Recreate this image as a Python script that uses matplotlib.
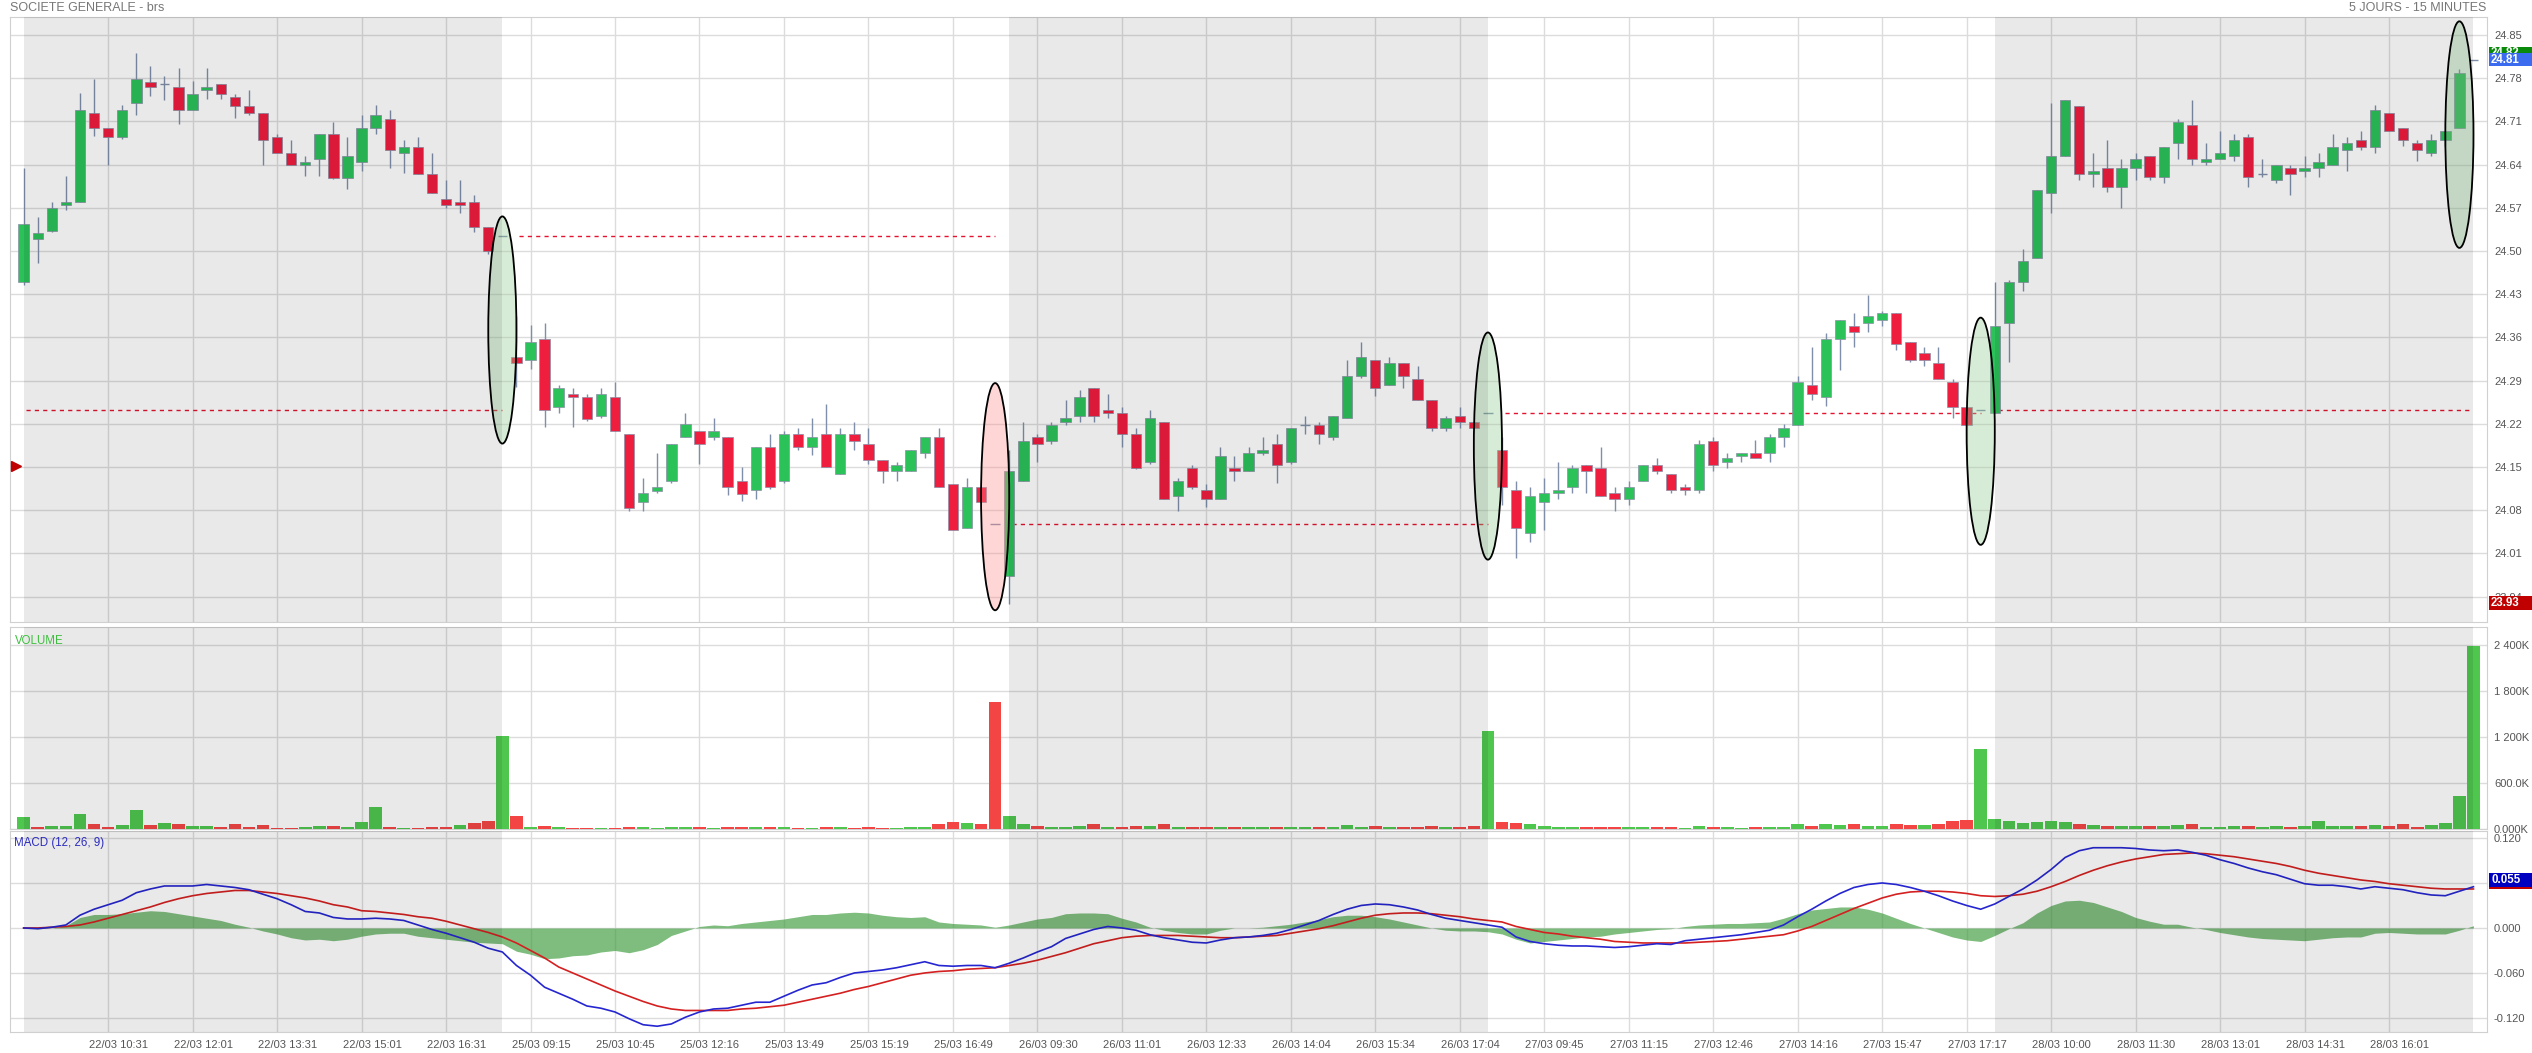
import matplotlib
matplotlib.use("Agg")
import matplotlib.pyplot as plt
from matplotlib.patches import Ellipse, Rectangle
from matplotlib.transforms import ScaledTranslation, blended_transform_factory

plt.rcParams['font.family'] = ['Liberation Sans', 'DejaVu Sans']

# 15-minute bars over five sessions; bar 34, 69, 104, 139 and 174 are the closing auctions
opens = [24.450, 24.519, 24.533, 24.574, 24.579, 24.724, 24.700, 24.685, 24.739, 24.774,
         24.770, 24.765, 24.729, 24.760, 24.770, 24.750, 24.735, 24.724, 24.685, 24.659,
         24.639, 24.649, 24.690, 24.619, 24.644, 24.700, 24.714, 24.659, 24.669, 24.625,
         24.584, 24.579, 24.579, 24.539, 24.524,
         24.328, 24.324, 24.358, 24.248, 24.268, 24.264, 24.233, 24.264, 24.204, 24.093,
         24.112, 24.127, 24.199, 24.209, 24.199, 24.199, 24.127, 24.113, 24.183, 24.127,
         24.204, 24.183, 24.204, 24.139, 24.204, 24.187, 24.162, 24.144, 24.144, 24.173,
         24.199, 24.122, 24.052, 24.117, 24.058,
         23.973, 24.127, 24.199, 24.193, 24.223, 24.233, 24.278, 24.243, 24.238, 24.204,
         24.158, 24.223, 24.103, 24.149, 24.113, 24.098, 24.149, 24.144, 24.173, 24.187,
         24.158, 24.218, 24.218, 24.199, 24.229, 24.298, 24.324, 24.283, 24.319, 24.293,
         24.259, 24.214, 24.233, 24.223, 24.237,
         24.178, 24.113, 24.043, 24.093, 24.108, 24.117, 24.153, 24.149, 24.108, 24.098,
         24.127, 24.153, 24.139, 24.117, 24.113, 24.193, 24.158, 24.168, 24.173, 24.173,
         24.199, 24.218, 24.283, 24.264, 24.358, 24.379, 24.384, 24.389, 24.399, 24.353,
         24.334, 24.319, 24.288, 24.248, 24.243,
         24.238, 24.384, 24.450, 24.488, 24.594, 24.654, 24.735, 24.625, 24.634, 24.604,
         24.634, 24.654, 24.620, 24.675, 24.704, 24.644, 24.649, 24.654, 24.685, 24.625,
         24.615, 24.634, 24.630, 24.634, 24.639, 24.664, 24.680, 24.669, 24.724, 24.700,
         24.675, 24.659, 24.680, 24.700, 24.810]
highs = [24.635, 24.555, 24.579, 24.621, 24.756, 24.779, 24.700, 24.736, 24.820, 24.800,
         24.784, 24.796, 24.775, 24.796, 24.770, 24.755, 24.760, 24.724, 24.690, 24.680,
         24.654, 24.690, 24.709, 24.685, 24.720, 24.736, 24.729, 24.680, 24.685, 24.659,
         24.615, 24.615, 24.590, 24.539, 24.524,
         24.394, 24.380, 24.384, 24.283, 24.278, 24.268, 24.278, 24.287, 24.204, 24.133,
         24.173, 24.188, 24.238, 24.209, 24.229, 24.199, 24.150, 24.183, 24.204, 24.209,
         24.214, 24.229, 24.252, 24.214, 24.223, 24.214, 24.162, 24.158, 24.178, 24.199,
         24.214, 24.122, 24.133, 24.117, 24.058,
         24.178, 24.223, 24.204, 24.223, 24.259, 24.274, 24.278, 24.268, 24.248, 24.214,
         24.243, 24.223, 24.132, 24.153, 24.122, 24.183, 24.168, 24.183, 24.199, 24.204,
         24.214, 24.233, 24.223, 24.233, 24.324, 24.353, 24.324, 24.328, 24.319, 24.313,
         24.259, 24.233, 24.248, 24.223, 24.237,
         24.199, 24.127, 24.117, 24.133, 24.158, 24.153, 24.153, 24.183, 24.117, 24.127,
         24.153, 24.164, 24.139, 24.122, 24.194, 24.199, 24.173, 24.173, 24.194, 24.204,
         24.219, 24.298, 24.344, 24.367, 24.389, 24.399, 24.428, 24.403, 24.399, 24.353,
         24.344, 24.344, 24.293, 24.248, 24.243,
         24.450, 24.453, 24.504, 24.599, 24.740, 24.745, 24.735, 24.659, 24.680, 24.649,
         24.659, 24.654, 24.669, 24.714, 24.745, 24.675, 24.694, 24.689, 24.689, 24.649,
         24.639, 24.639, 24.654, 24.659, 24.690, 24.685, 24.694, 24.736, 24.724, 24.700,
         24.680, 24.689, 24.694, 24.795, 24.810]
lows = [24.445, 24.480, 24.530, 24.567, 24.579, 24.686, 24.640, 24.682, 24.720, 24.751,
        24.745, 24.705, 24.729, 24.746, 24.746, 24.715, 24.721, 24.640, 24.659, 24.639,
        24.621, 24.621, 24.616, 24.600, 24.630, 24.690, 24.635, 24.626, 24.625, 24.594,
        24.570, 24.561, 24.530, 24.495, 24.524,
        24.280, 24.309, 24.215, 24.238, 24.215, 24.225, 24.230, 24.209, 24.079, 24.079,
        24.108, 24.124, 24.199, 24.155, 24.194, 24.104, 24.095, 24.099, 24.114, 24.124,
        24.178, 24.169, 24.150, 24.139, 24.178, 24.155, 24.124, 24.128, 24.144, 24.164,
        24.117, 24.048, 24.052, 24.093, 24.058,
        23.928, 24.127, 24.158, 24.188, 24.218, 24.223, 24.223, 24.229, 24.183, 24.147,
        24.155, 24.098, 24.079, 24.114, 24.085, 24.098, 24.128, 24.144, 24.169, 24.124,
        24.155, 24.204, 24.188, 24.194, 24.229, 24.294, 24.265, 24.283, 24.278, 24.259,
        24.209, 24.209, 24.214, 24.214, 24.237,
        24.088, 24.003, 24.029, 24.048, 24.099, 24.108, 24.108, 24.103, 24.079, 24.089,
        24.127, 24.139, 24.108, 24.104, 24.108, 24.144, 24.149, 24.158, 24.164, 24.158,
        24.183, 24.218, 24.259, 24.249, 24.308, 24.345, 24.369, 24.379, 24.340, 24.320,
        24.313, 24.293, 24.229, 24.218, 24.243,
        24.238, 24.320, 24.435, 24.488, 24.561, 24.654, 24.615, 24.604, 24.595, 24.570,
        24.615, 24.615, 24.610, 24.649, 24.640, 24.640, 24.649, 24.646, 24.604, 24.620,
        24.610, 24.590, 24.620, 24.620, 24.639, 24.630, 24.664, 24.659, 24.694, 24.670,
        24.646, 24.654, 24.670, 24.700, 24.810]
closes = [24.543, 24.529, 24.569, 24.579, 24.729, 24.700, 24.685, 24.729, 24.779, 24.765,
          24.770, 24.729, 24.755, 24.765, 24.755, 24.735, 24.724, 24.680, 24.659, 24.639,
          24.644, 24.690, 24.619, 24.654, 24.700, 24.720, 24.664, 24.669, 24.625, 24.594,
          24.574, 24.574, 24.539, 24.500, 24.524,
          24.319, 24.353, 24.243, 24.278, 24.264, 24.228, 24.268, 24.209, 24.084, 24.108,
          24.117, 24.188, 24.219, 24.187, 24.209, 24.117, 24.107, 24.183, 24.117, 24.204,
          24.183, 24.199, 24.150, 24.204, 24.193, 24.162, 24.144, 24.153, 24.178, 24.199,
          24.117, 24.048, 24.117, 24.093, 24.058,
          24.144, 24.193, 24.187, 24.218, 24.229, 24.264, 24.233, 24.238, 24.204, 24.149,
          24.229, 24.098, 24.127, 24.117, 24.098, 24.168, 24.144, 24.173, 24.178, 24.153,
          24.214, 24.218, 24.204, 24.233, 24.298, 24.328, 24.278, 24.319, 24.298, 24.259,
          24.214, 24.229, 24.223, 24.214, 24.237,
          24.117, 24.052, 24.103, 24.108, 24.113, 24.149, 24.144, 24.103, 24.098, 24.117,
          24.153, 24.144, 24.113, 24.113, 24.187, 24.153, 24.164, 24.173, 24.164, 24.199,
          24.214, 24.288, 24.268, 24.358, 24.389, 24.368, 24.394, 24.399, 24.349, 24.324,
          24.324, 24.293, 24.248, 24.218, 24.243,
          24.379, 24.450, 24.484, 24.599, 24.654, 24.745, 24.625, 24.630, 24.604, 24.634,
          24.649, 24.620, 24.669, 24.709, 24.649, 24.649, 24.659, 24.680, 24.620, 24.625,
          24.639, 24.625, 24.634, 24.644, 24.669, 24.675, 24.669, 24.729, 24.694, 24.680,
          24.664, 24.680, 24.694, 24.789, 24.810]

# volume in thousands of shares
volumes_k = [162, 22, 39, 35, 193, 61, 26, 53, 254, 48, 74, 61, 39, 39, 26, 70, 31, 48, 18, 18,
             22, 44, 39, 26, 88, 293, 26, 9, 18, 26, 26, 57, 74, 101, 1218,
             171, 31, 39, 22, 9, 9, 18, 9, 30, 20, 15, 20, 25, 20, 15, 25, 20, 25, 20, 25,
             15, 15, 20, 25, 15, 20, 15, 15, 20, 20, 60, 90, 80, 60, 1660,
             170, 60, 40, 30, 25, 45, 60, 30, 30, 40, 40, 60, 30, 25, 30, 30, 20, 25, 20, 20,
             25, 20, 20, 25, 50, 30, 40, 25, 30, 30, 40, 25, 30, 40, 1280,
             90, 80, 60, 40, 30, 30, 30, 25, 25, 25, 30, 20, 20, 15, 40, 30, 20, 15, 20, 25,
             30, 60, 40, 70, 50, 60, 40, 40, 60, 50, 50, 70, 100, 120, 1050,
             130, 110, 80, 90, 100, 90, 70, 50, 40, 40, 40, 35, 40, 50, 60, 30, 30, 40, 40, 25,
             40, 30, 39, 100, 39, 43, 39, 52, 39, 70, 26, 52, 83, 437, 2390]

macd_line = [0.000, -0.001, 0.001, 0.004, 0.017, 0.025, 0.031, 0.037, 0.047, 0.052,
             0.056, 0.056, 0.056, 0.058, 0.056, 0.054, 0.051, 0.045, 0.039, 0.031,
             0.022, 0.020, 0.014, 0.012, 0.012, 0.013, 0.012, 0.010, 0.004, -0.002,
             -0.007, -0.013, -0.019, -0.027, -0.032, -0.050, -0.063, -0.079, -0.087, -0.095,
             -0.104, -0.107, -0.112, -0.121, -0.129, -0.131, -0.128, -0.119, -0.112, -0.108,
             -0.107, -0.103, -0.099, -0.099, -0.091, -0.083, -0.076, -0.073, -0.066, -0.060,
             -0.058, -0.056, -0.053, -0.049, -0.045, -0.050, -0.051, -0.050, -0.050, -0.053,
             -0.047, -0.040, -0.032, -0.025, -0.014, -0.008, -0.002, 0.002, 0.000, -0.003,
             -0.009, -0.013, -0.016, -0.019, -0.020, -0.016, -0.013, -0.012, -0.010, -0.007,
             -0.002, 0.004, 0.010, 0.018, 0.025, 0.030, 0.032, 0.031, 0.028, 0.024,
             0.018, 0.013, 0.010, 0.007, 0.004, 0.001, -0.012, -0.018, -0.021, -0.023,
             -0.024, -0.024, -0.025, -0.026, -0.025, -0.023, -0.021, -0.022, -0.017, -0.015,
             -0.013, -0.011, -0.009, -0.006, -0.003, 0.004, 0.015, 0.025, 0.036, 0.046,
             0.054, 0.058, 0.060, 0.058, 0.054, 0.049, 0.043, 0.036, 0.030, 0.025,
             0.032, 0.042, 0.052, 0.064, 0.078, 0.094, 0.103, 0.107, 0.107, 0.107,
             0.106, 0.104, 0.103, 0.104, 0.101, 0.097, 0.091, 0.086, 0.080, 0.075,
             0.071, 0.065, 0.059, 0.057, 0.057, 0.055, 0.052, 0.055, 0.053, 0.051,
             0.047, 0.044, 0.043, 0.049, 0.055]
signal_line = [0.000, 0.000, 0.001, 0.002, 0.004, 0.008, 0.013, 0.018, 0.023, 0.028,
               0.034, 0.039, 0.043, 0.046, 0.048, 0.050, 0.050, 0.048, 0.046, 0.043,
               0.040, 0.036, 0.031, 0.028, 0.023, 0.022, 0.020, 0.018, 0.015, 0.013,
               0.009, 0.004, -0.001, -0.006, -0.012, -0.020, -0.030, -0.040, -0.052, -0.060,
               -0.068, -0.076, -0.084, -0.091, -0.098, -0.104, -0.108, -0.110, -0.110, -0.110,
               -0.110, -0.108, -0.107, -0.105, -0.103, -0.099, -0.095, -0.091, -0.087, -0.082,
               -0.078, -0.073, -0.068, -0.063, -0.060, -0.058, -0.057, -0.055, -0.054, -0.053,
               -0.050, -0.047, -0.043, -0.038, -0.033, -0.027, -0.021, -0.017, -0.013, -0.011,
               -0.010, -0.010, -0.010, -0.011, -0.012, -0.013, -0.013, -0.012, -0.011, -0.010,
               -0.007, -0.004, -0.001, 0.003, 0.008, 0.013, 0.017, 0.019, 0.020, 0.020,
               0.019, 0.017, 0.015, 0.012, 0.010, 0.008, 0.002, -0.002, -0.006, -0.008,
               -0.011, -0.013, -0.015, -0.018, -0.019, -0.020, -0.020, -0.020, -0.020, -0.019,
               -0.018, -0.017, -0.015, -0.013, -0.011, -0.009, -0.004, 0.002, 0.010, 0.018,
               0.026, 0.033, 0.040, 0.045, 0.048, 0.049, 0.049, 0.048, 0.046, 0.043,
               0.042, 0.043, 0.045, 0.049, 0.055, 0.062, 0.070, 0.077, 0.083, 0.088,
               0.092, 0.095, 0.098, 0.099, 0.100, 0.099, 0.097, 0.095, 0.092, 0.089,
               0.086, 0.082, 0.077, 0.073, 0.070, 0.067, 0.064, 0.062, 0.059, 0.057,
               0.055, 0.053, 0.052, 0.052, 0.052]
macd_hist = [0.000, -0.001, 0.000, 0.003, 0.014, 0.018, 0.018, 0.019, 0.021, 0.023,
             0.022, 0.019, 0.016, 0.013, 0.010, 0.005, 0.001, -0.004, -0.008, -0.013,
             -0.016, -0.015, -0.017, -0.015, -0.011, -0.008, -0.007, -0.007, -0.011, -0.013,
             -0.015, -0.017, -0.019, -0.020, -0.021, -0.031, -0.035, -0.041, -0.040, -0.037,
             -0.036, -0.032, -0.030, -0.033, -0.029, -0.022, -0.010, -0.004, 0.002, 0.004,
             0.003, 0.006, 0.008, 0.010, 0.012, 0.015, 0.018, 0.018, 0.020, 0.021,
             0.020, 0.017, 0.015, 0.014, 0.015, 0.008, 0.006, 0.005, 0.004, 0.001,
             0.004, 0.008, 0.012, 0.014, 0.019, 0.020, 0.020, 0.019, 0.013, 0.008,
             0.001, -0.003, -0.006, -0.008, -0.008, -0.003, 0.000, 0.000, 0.001, 0.003,
             0.005, 0.008, 0.011, 0.015, 0.017, 0.017, 0.015, 0.012, 0.008, 0.004,
             0.000, -0.003, -0.004, -0.004, -0.005, -0.008, -0.015, -0.020, -0.018, -0.016,
             -0.014, -0.012, -0.011, -0.008, -0.006, -0.004, -0.002, -0.001, 0.002, 0.004,
             0.005, 0.006, 0.006, 0.007, 0.008, 0.013, 0.019, 0.024, 0.026, 0.028,
             0.028, 0.025, 0.020, 0.013, 0.006, 0.000, -0.006, -0.012, -0.016, -0.018,
             -0.010, -0.001, 0.007, 0.020, 0.030, 0.036, 0.037, 0.034, 0.028, 0.022,
             0.014, 0.009, 0.005, 0.005, 0.001, -0.002, -0.006, -0.009, -0.012, -0.014,
             -0.015, -0.016, -0.017, -0.015, -0.013, -0.012, -0.012, -0.007, -0.006, -0.007,
             -0.008, -0.008, -0.008, -0.003, 0.003]

session_starts = [0, 35, 70, 105, 140]
shaded_sessions = [0, 2, 4]
prev_close = [24.243, 24.524, 24.058, 24.237, 24.243]

highlight_idx = [34, 69, 104, 139, 173]
highlight_top = [24.556, 24.286, 24.368, 24.392, 24.872]
highlight_bottom = [24.188, 23.918, 24.000, 24.024, 24.505]
highlight_up = [True, False, True, True, True]

tick_idx = list(range(6, 169, 6))
tick_labels = ['22/03 10:31', '22/03 12:01', '22/03 13:31', '22/03 15:01', '22/03 16:31',
               '25/03 09:15', '25/03 10:45', '25/03 12:16', '25/03 13:49', '25/03 15:19',
               '25/03 16:49', '26/03 09:30', '26/03 11:01', '26/03 12:33', '26/03 14:04',
               '26/03 15:34', '26/03 17:04', '27/03 09:45', '27/03 11:15', '27/03 12:46',
               '27/03 14:16', '27/03 15:47', '27/03 17:17', '28/03 10:00', '28/03 11:30',
               '28/03 13:01', '28/03 14:31', '28/03 16:01']
price_ticks = [24.85, 24.78, 24.71, 24.64, 24.57, 24.50, 24.43, 24.36, 24.29, 24.22,
               24.15, 24.08, 24.01, 23.94]
vol_ticks = [0, 600, 1200, 1800, 2400]
vol_tick_labels = ['0.000K', '600.0K', '1 200K', '1 800K', '2 400K']
macd_ticks = [-0.12, -0.06, 0.0, 0.06, 0.12]
# the 0.060 label sits under the MACD value box
macd_tick_labels = ['-0.120', '-0.060', '0.000', '', '0.120']

last_price = 24.81
period_high = 24.82
period_low = 23.93
low_marker_price = 24.152

GREEN = '#2bc25a'
RED = '#ef1d3e'
WICK = '#7f8faa'
GRID = '#dcdcdc'
TXT = '#555555'

W, H = 2532, 1053
fig = plt.figure(figsize=(W / 100, H / 100), dpi=100)
fig.patch.set_facecolor('white')


def frac_axes(left, top, right, bottom):
    return fig.add_axes([left / W, 1 - bottom / H, (right - left) / W, (bottom - top) / H])


ax_p = frac_axes(10, 17, 2487, 622)
ax_v = frac_axes(10, 627, 2487, 829)
ax_m = frac_axes(10, 831, 2487, 1032)
axes = [ax_p, ax_v, ax_m]

n = len(closes)
xlim = (-0.97, 174.96)
for ax in axes:
    ax.set_xlim(*xlim)
    ax.set_xticks(tick_idx)
    ax.grid(True, color=GRID, lw=1)
    ax.set_axisbelow(True)
    ax.tick_params(length=0, labelsize=8, colors=TXT, pad=5)
    ax.yaxis.tick_right()
    for sp in ax.spines.values():
        sp.set_color('#d0d0d0')
    for s in shaded_sessions:
        st = session_starts[s]
        ax.axvspan(st, st + 34, color='black', alpha=0.085, lw=0, zorder=8)

# --- price panel ---
for i in range(n):
    o, h, l, c = opens[i], highs[i], lows[i], closes[i]
    if h > l:
        ax_p.vlines(i, l, h, color=WICK, lw=1, zorder=3)
    if abs(c - o) < 1e-9:
        ax_p.hlines(o, i - 0.34, i + 0.34, color=WICK, lw=1, zorder=4)
    else:
        col = GREEN if c > o else RED
        ax_p.add_patch(Rectangle((i - 0.37, min(o, c)), 0.74, abs(c - o), fc=col,
                                 ec='#8a8fa6', lw=0.5, zorder=4))

for d, st in enumerate(session_starts):
    ax_p.hlines(prev_close[d], st + 0.2, st + 34, colors='#e3142f', lw=1,
                linestyles=(0, (3, 3)), zorder=3)

for k in range(len(highlight_idx)):
    fc = '#8fc98f' if highlight_up[k] else '#ff8a8a'
    centre = (highlight_idx[k], (highlight_top[k] + highlight_bottom[k]) / 2)
    height = highlight_top[k] - highlight_bottom[k]
    ax_p.add_patch(Ellipse(centre, width=2.0, height=height, fc=fc, alpha=0.35,
                           ec='none', zorder=5))
    ax_p.add_patch(Ellipse(centre, width=2.0, height=height, fc='none', ec='black',
                           lw=1.3, zorder=6))

ax_p.plot([-0.55], [low_marker_price], marker='>', ms=7, color='#c00000', clip_on=False, zorder=9)

ax_p.set_ylim(23.899, 24.879)
ax_p.set_yticks(price_ticks)
ax_p.set_yticklabels([f'{t:.2f}' for t in price_ticks])
ax_p.set_xticklabels([])

# --- volume panel ---
vol_cols = []
for i in range(n):
    ref = closes[i - 1] if i > 0 else opens[0]
    vol_cols.append('#4fc74f' if closes[i] >= ref else '#f44545')
ax_v.bar(range(n), volumes_k, width=0.9, color=vol_cols, zorder=3)
ax_v.set_ylim(0, 2636)
ax_v.set_yticks(vol_ticks)
ax_v.set_yticklabels(vol_tick_labels)
ax_v.set_xticklabels([])
ax_v.text(0.0018, 0.93, 'VOLUME', transform=ax_v.transAxes, color='#3cbf3c',
          fontsize=8.3, ha='left', va='center', zorder=9)

# --- MACD panel ---
xs = list(range(n))
ax_m.fill_between(xs, 0, macd_hist, color='#3a9a3a', alpha=0.65, lw=0, zorder=3)
ax_m.plot(xs, signal_line, color='#d42020', lw=1.2, zorder=4)
ax_m.plot(xs, macd_line, color='#2626d0', lw=1.2, zorder=5)
ax_m.set_ylim(-0.1387, 0.1293)
ax_m.set_yticks(macd_ticks)
ax_m.set_yticklabels(macd_tick_labels)
ax_m.set_xticklabels(tick_labels)
ax_m.tick_params(axis='x', pad=6)
for lab in ax_m.get_xticklabels():
    lab.set_transform(lab.get_transform() + ScaledTranslation(10.5 / 100, 0, fig.dpi_scale_trans))
ax_m.text(0.0018, 0.94, 'MACD (12, 26, 9)', transform=ax_m.transAxes, color='#2a2ac0',
          fontsize=8.3, ha='left', va='center', zorder=9)


# --- value boxes on the right axis (later boxes cover earlier ones) ---
def value_box(ax, yval, text, color, half_h, z):
    tr = blended_transform_factory(fig.transFigure, ax.transData)
    ax.add_patch(Rectangle((2489 / W, yval - half_h), 1 - 2489 / W, 2 * half_h, fc=color,
                           ec='none', transform=tr, clip_on=False, zorder=z))
    ax.text(2491 / W, yval, text, transform=tr, color='white', fontsize=8.3,
            fontweight='bold', ha='left', va='center', clip_on=False, zorder=z + 0.5)


value_box(ax_p, period_high, f'{period_high:.2f}', '#0a8a0a', 0.0109, 20)
value_box(ax_p, last_price, f'{last_price:.2f}', '#3b6cf0', 0.0109, 22)
value_box(ax_p, period_low, f'{period_low:.2f}', '#c00000', 0.0109, 20)
value_box(ax_m, signal_line[-1] + 0.0095, f'{signal_line[-1]:.3f}', '#c00000', 0.0093, 20)
value_box(ax_m, macd_line[-1] + 0.0095, f'{macd_line[-1]:.3f}', '#0000c0', 0.0093, 22)

fig.text(10 / W, 1 - 8 / H, 'SOCIETE GENERALE - brs', color='#777777', fontsize=9,
         ha='left', va='center')
fig.text(2486 / W, 1 - 8 / H, '5 JOURS - 15 MINUTES', color='#777777', fontsize=9,
         ha='right', va='center')

fig.savefig('out.png', dpi=100, facecolor='white')
